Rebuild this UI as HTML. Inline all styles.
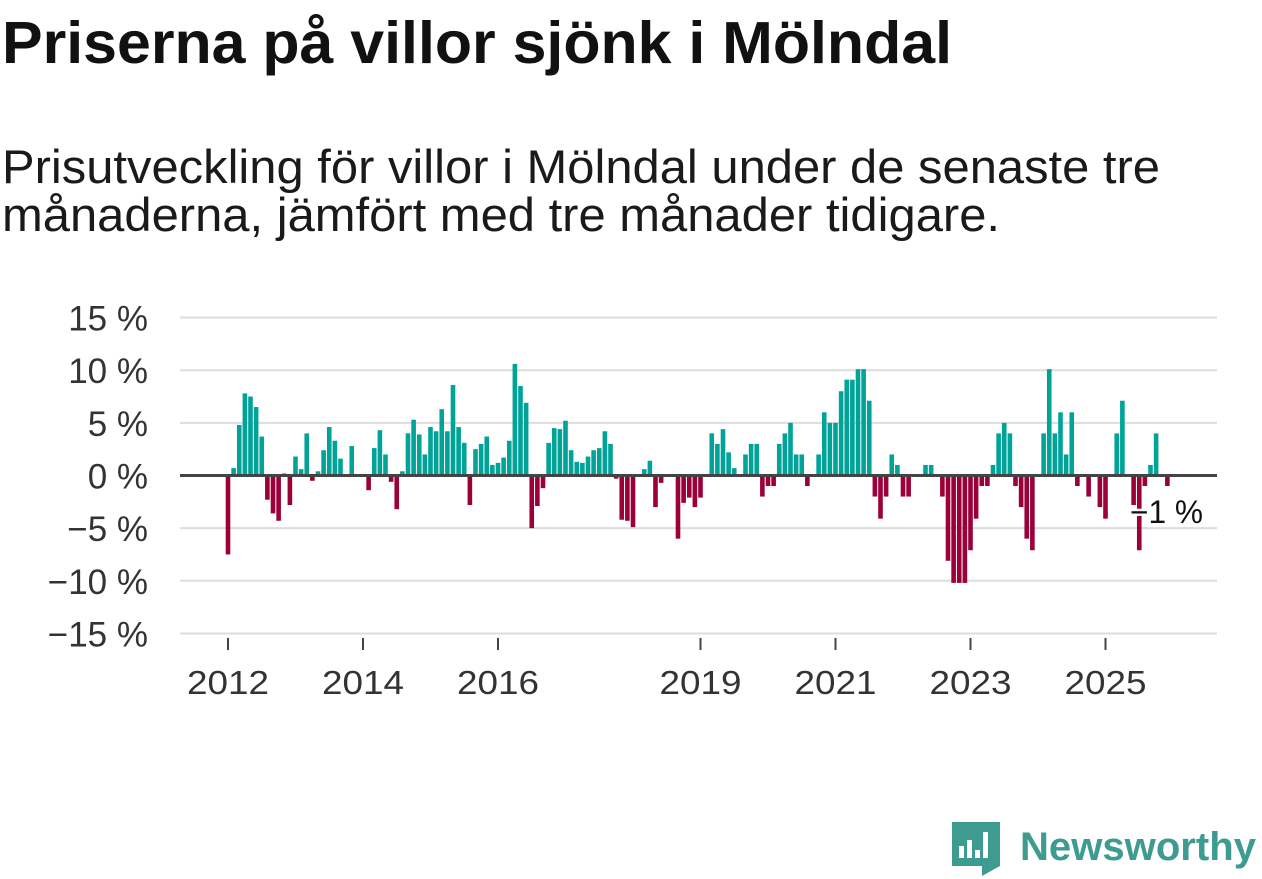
<!DOCTYPE html>
<html><head><meta charset="utf-8"><style>
body{margin:0;width:1262px;height:879px;background:#fff;overflow:hidden;font-family:"Liberation Sans",sans-serif;}
svg{position:absolute;left:0;top:0}
</style></head><body>
<svg width="1262" height="879">
 <text x="2" y="63" font-size="59" font-weight="bold" fill="#111" textLength="950" lengthAdjust="spacingAndGlyphs" font-family="Liberation Sans, sans-serif">Priserna på villor sjönk i Mölndal</text>
 <text x="2" y="183" font-size="47" fill="#1a1a1a" textLength="1158" lengthAdjust="spacingAndGlyphs" font-family="Liberation Sans, sans-serif">Prisutveckling för villor i Mölndal under de senaste tre</text>
 <text x="2" y="231" font-size="47" fill="#1a1a1a" textLength="998" lengthAdjust="spacingAndGlyphs" font-family="Liberation Sans, sans-serif">månaderna, jämfört med tre månader tidigare.</text>
</svg>
<svg id="chart" width="1262" height="879"></svg>
<script>
const values=[-7.5,0.7,4.8,7.8,7.5,6.5,3.7,-2.3,-3.6,-4.3,0.2,-2.8,1.8,0.6,4.0,-0.5,0.4,2.4,4.6,3.3,1.6,0,2.8,0,0,-1.4,2.6,4.3,2.0,-0.6,-3.2,0.4,4.0,5.3,3.9,2.0,4.6,4.2,6.3,4.2,8.6,4.6,3.1,-2.8,2.5,3.0,3.7,1.0,1.2,1.7,3.3,10.6,8.5,6.9,-5.0,-2.9,-1.2,3.1,4.5,4.4,5.2,2.4,1.3,1.2,1.8,2.4,2.6,4.2,3.0,-0.3,-4.2,-4.3,-4.9,0,0.6,1.4,-3.0,-0.7,0,0,-6.0,-2.6,-2.1,-3.0,-2.1,0,4.0,3.0,4.4,2.2,0.7,0,2.0,3.0,3.0,-2.0,-1.0,-1.0,3.0,4.0,5.0,2.0,2.0,-1.0,0,2.0,6.0,5.0,5.0,8.0,9.1,9.1,10.1,10.1,7.1,-2.0,-4.1,-2.0,2.0,1.0,-2.0,-2.0,0,0,1.0,1.0,0,-2.0,-8.1,-10.2,-10.2,-10.2,-7.1,-4.1,-1.0,-1.0,1.0,4.0,5.0,4.0,-1.0,-3.0,-6.0,-7.1,0,4.0,10.1,4.0,6.0,2.0,6.0,-1.0,0,-2.0,0,-3.0,-4.1,0,4.0,7.1,0,-2.8,-7.1,-1.0,1.0,4.0,0,-1.0];
const yTicks=[15,10,5,0,-5,-10,-15];
const yTickLabels=["15 %","10 %","5 %","0 %","−5 %","−10 %","−15 %"];
const xTickYears=[2012,2014,2016,2019,2021,2023,2025];
const startYear=2012;
const lastLabel="−1 %";
const svg=document.getElementById('chart');
const NS='http://www.w3.org/2000/svg';
const y=v=>475.5-v*10.53;
const x=i=>228+i*5.625;
function mk(t,a){const e=document.createElementNS(NS,t);for(const k in a)e.setAttribute(k,a[k]);svg.appendChild(e);return e;}
yTicks.forEach((t,k)=>{
 const l=mk('line',{x1:180,x2:1217,y1:y(t),y2:y(t),stroke:'#ddd','stroke-width':2});
 
 
 const tx=mk('text',{x:148,y:y(t)+13,'text-anchor':'end','font-size':35,fill:'#333','font-family':'Liberation Sans, sans-serif'});
 tx.textContent=yTickLabels[k];
 
 
});
values.forEach((v,i)=>{
 if(v===0)return;
 const r=mk('rect',{x:x(i)-2.3,width:4.6,y:v>0?y(v):y(0),height:Math.abs(y(v)-y(0)),fill:v>0?'#00a398':'#9b0039'});
 
 
});
const z=mk('line',{x1:180,x2:1217,y1:y(0),y2:y(0),stroke:'#444','stroke-width':3});


xTickYears.forEach(yr=>{
 const xx=x((yr-startYear)*12);
 const t=mk('line',{x1:xx,x2:xx,y1:638,y2:650,stroke:'#444','stroke-width':2});
 
 
 const tx=mk('text',{x:xx-41,y:694,'font-size':33,fill:'#333',textLength:82,lengthAdjust:'spacingAndGlyphs','font-family':'Liberation Sans, sans-serif'});
 tx.textContent=yr;
 
 
});
const lb=mk('text',{x:1130,y:523,'font-size':32,fill:'#111',stroke:'#fff','stroke-width':5,'paint-order':'stroke',textLength:73,lengthAdjust:'spacingAndGlyphs','font-family':'Liberation Sans, sans-serif'});
lb.textContent=lastLabel;


</script>
<svg width="1262" height="879" style="pointer-events:none">
 <path d="M952 822h48v44l-18 10v-10h-30z" fill="#3d9b90"/>
 <rect x="959" y="846" width="5" height="12" fill="#fff"/><rect x="967" y="840" width="5" height="18" fill="#fff"/><rect x="975" y="850" width="5" height="8" fill="#fff"/><rect x="983" y="832" width="5" height="26" fill="#fff"/>
 <text x="1020" y="860" font-size="40" font-weight="bold" fill="#3d9b90" textLength="236" lengthAdjust="spacingAndGlyphs" font-family="Liberation Sans, sans-serif">Newsworthy</text>
</svg>
</body></html>
